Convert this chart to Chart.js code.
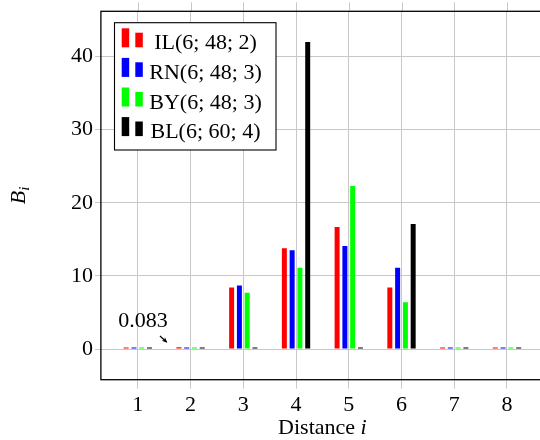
<!DOCTYPE html>
<html>
<head>
<meta charset="utf-8">
<script src="https://cdn.jsdelivr.net/npm/chart.js@4/dist/chart.umd.min.js"></script>
<style>
  html, body { margin: 0; padding: 0; background: #fff; overflow: hidden; }
  #wrap { width: 540px; height: 440px; overflow: hidden; position: relative; }
  canvas { display: block; }
</style>
</head>
<body>
<div id="wrap"><canvas id="c" width="560" height="440"></canvas></div>
<script>
// ---- data ----
const distances = [1, 2, 3, 4, 5, 6, 7, 8];
const seriesLabels = ['IL(6; 48; 2)', 'RN(6; 48; 3)', 'BY(6; 48; 3)', 'BL(6; 60; 4)'];
const seriesIL = [0.083, 0.25, 8.4, 13.8, 16.7, 8.4, 0.08, 0.08];
const seriesRN = [0.083, 0.1, 8.7, 13.5, 14.1, 11.1, 0.08, 0.08];
const seriesBY = [0.083, 0.1, 7.7, 11.1, 22.3, 6.4, 0.08, 0.08];
const seriesBL = [0.083, 0.1, 0.1, 42.0, 0.1, 17.1, 0.08, 0.08];
const yTicks = [0, 10, 20, 30, 40];
const annotationText = '0.083';

const colors = ['#ff0000', '#0000ff', '#00ff00', '#000000'];
const allSeries = [seriesIL, seriesRN, seriesBY, seriesBL];
const FONT = "'Liberation Serif', 'Times New Roman', serif";

const datasets = allSeries.map((s, k) => ({
  label: seriesLabels[k],
  data: distances.map((d, i) => ({ x: d, y: s[i] })),
  backgroundColor: colors[k],
  borderWidth: 0,
  minBarLength: 1.6,
  categoryPercentage: 0.59,
  barPercentage: 0.64
}));

const decor = {
  id: 'decor',
  afterDraw(chart) {
    const ctx = chart.ctx;
    const a = chart.chartArea;
    const xs = chart.scales.x, ys = chart.scales.y;
    ctx.save();
    // top tick marks (mirror)
    ctx.strokeStyle = '#c8c8c8';
    ctx.lineWidth = 1;
    xs.ticks.forEach(t => {
      const px = Math.round(xs.getPixelForValue(t.value)) + 0.5;
      ctx.beginPath(); ctx.moveTo(px, a.top - 9); ctx.lineTo(px, a.top); ctx.stroke();
    });
    // frame
    ctx.strokeStyle = '#000';
    ctx.lineWidth = 1.3;
    ctx.strokeRect(a.left, a.top, a.right - a.left, a.bottom - a.top);

    // legend
    const L = a.left + 13.6, T = a.top + 11.4, W = 161.5, H = 127.3;
    ctx.fillStyle = '#fff';
    ctx.fillRect(L, T, W, H);
    ctx.strokeStyle = '#000';
    ctx.lineWidth = 1.1;
    ctx.strokeRect(L, T, W, H);
    ctx.font = '22px ' + FONT;
    ctx.textAlign = 'center';
    ctx.textBaseline = 'alphabetic';
    chart.data.datasets.forEach((ds, k) => {
      const bottom = T + 24.6 + 29.6 * k;
      ctx.fillStyle = ds.backgroundColor;
      ctx.fillRect(L + 7.2, bottom - 19, 7.5, 19);
      ctx.fillRect(L + 20.8, bottom - 14.6, 7.5, 14.6);
      ctx.fillStyle = '#000';
      ctx.fillText(ds.label, L + 91, bottom + 2);
    });

    // annotation
    ctx.font = '22px ' + FONT;
    ctx.textAlign = 'center';
    ctx.fillStyle = '#000';
    ctx.fillText(annotationText, xs.getPixelForValue(1.1), ys.getPixelForValue(2.97));
    const x0 = xs.getPixelForValue(1.42), y0 = ys.getPixelForValue(1.78);
    const x1 = xs.getPixelForValue(1.545), y1 = ys.getPixelForValue(0.96);
    ctx.strokeStyle = '#000';
    ctx.lineWidth = 1.2;
    ctx.beginPath(); ctx.moveTo(x0, y0); ctx.lineTo(x1, y1); ctx.stroke();
    const ang = Math.atan2(y1 - y0, x1 - x0);
    ctx.beginPath();
    ctx.moveTo(x1 + Math.cos(ang), y1 + Math.sin(ang));
    ctx.lineTo(x1 - 5 * Math.cos(ang - 0.5), y1 - 5 * Math.sin(ang - 0.5));
    ctx.lineTo(x1 - 3 * Math.cos(ang), y1 - 3 * Math.sin(ang));
    ctx.lineTo(x1 - 5 * Math.cos(ang + 0.5), y1 - 5 * Math.sin(ang + 0.5));
    ctx.closePath(); ctx.fill();

    // x title
    const cx = (a.left + a.right) / 2;
    ctx.font = '22px ' + FONT;
    const w1 = ctx.measureText('Distance ').width;
    ctx.font = 'italic 22px ' + FONT;
    const w2 = ctx.measureText('i').width;
    let sx = cx - (w1 + w2) / 2;
    ctx.textAlign = 'left';
    ctx.font = '22px ' + FONT;
    ctx.fillText('Distance ', sx, 434);
    ctx.font = 'italic 22px ' + FONT;
    ctx.fillText('i', sx + w1, 434);

    // y title B_i
    ctx.save();
    ctx.translate(25, (a.top + a.bottom) / 2);
    ctx.rotate(-Math.PI / 2);
    ctx.font = 'italic 22px ' + FONT;
    const wb = ctx.measureText('B').width;
    ctx.font = 'italic 15px ' + FONT;
    const wi = ctx.measureText('i').width;
    const st = -(wb + wi) / 2;
    ctx.textAlign = 'left';
    ctx.font = 'italic 22px ' + FONT;
    ctx.fillText('B', st, 0);
    ctx.font = 'italic 15px ' + FONT;
    ctx.fillText('i', st + wb, 4);
    ctx.restore();

    ctx.restore();
  }
};

new Chart(document.getElementById('c'), {
  type: 'bar',
  data: { datasets },
  options: {
    responsive: false,
    animation: false,
    devicePixelRatio: 1,
    layout: { padding: { left: 0, right: 16.1, top: 11.3, bottom: 0 } },
    plugins: { legend: { display: false }, tooltip: { enabled: false } },
    scales: {
      x: {
        type: 'linear',
        min: 0.3, max: 8.7,
        offset: false,
        grid: { offset: false, color: '#c8c8c8', lineWidth: 1, drawTicks: true, tickLength: 9, tickColor: '#c8c8c8' },
        border: { display: false },
        ticks: {
          stepSize: 1, includeBounds: false, autoSkip: false, maxRotation: 0,
          color: '#000', font: { family: FONT, size: 22 }, padding: 3,
          callback: v => String(v)
        },
        afterFit: s => { s.height = 60.3; s.paddingLeft = 0; s.paddingRight = 0; }
      },
      y: {
        min: -4.2, max: 46.2,
        grid: { color: '#c8c8c8', lineWidth: 1, drawTicks: true, tickLength: 6, tickColor: '#c8c8c8' },
        border: { display: false },
        afterBuildTicks: s => { s.ticks = yTicks.map(v => ({ value: v })); },
        ticks: {
          color: '#000', font: { family: FONT, size: 22 }, padding: 2,
          callback: v => String(v)
        },
        afterFit: s => { s.width = 100.9; s.paddingTop = 0; s.paddingBottom = 0; }
      }
    }
  },
  plugins: [decor]
});
</script>
</body>
</html>
